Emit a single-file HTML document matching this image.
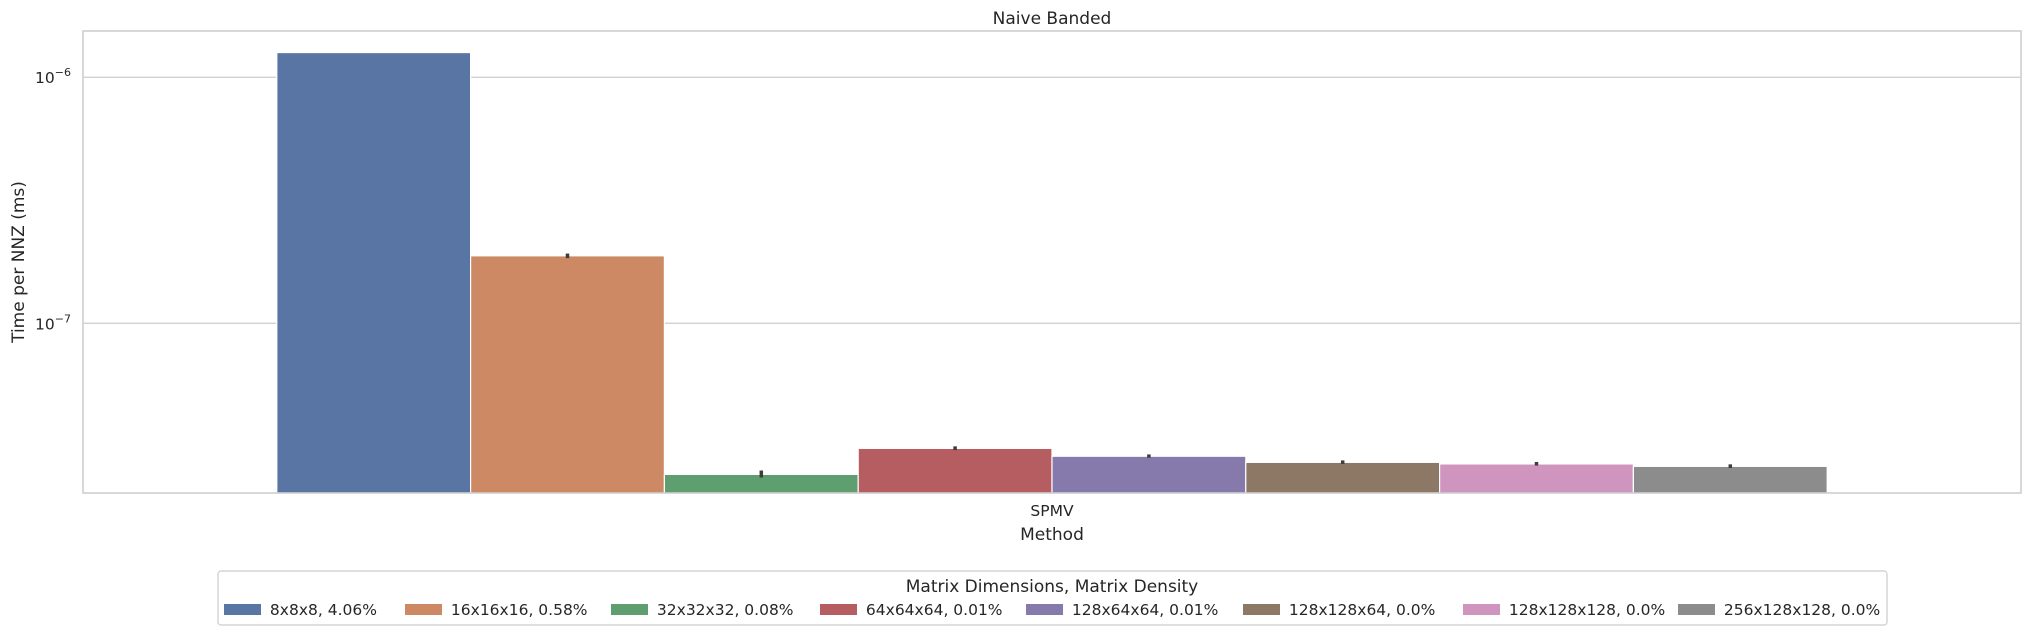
<!DOCTYPE html>
<html><head><meta charset="utf-8"><style>
body{margin:0;background:#fff;}
svg{display:block;font-family:"DejaVu Sans","Liberation Sans",sans-serif;}
</style></head><body>
<svg id="chart" width="2030" height="635" viewBox="0 0 2030 635" xmlns="http://www.w3.org/2000/svg"></svg>
<script>
const categories = ["8x8x8, 4.06%","16x16x16, 0.58%","32x32x32, 0.08%","64x64x64, 0.01%","128x64x64, 0.01%","128x128x64, 0.0%","128x128x128, 0.0%","256x128x128, 0.0%"];
const values = [1.26e-6, 1.88e-7, 2.43e-8, 3.1e-8, 2.88e-8, 2.72e-8, 2.68e-8, 2.62e-8];
const errLow = [1.26e-6, 1.84e-7, 2.36e-8, 3.05e-8, 2.84e-8, 2.68e-8, 2.64e-8, 2.58e-8];
const errHigh = [1.26e-6, 1.92e-7, 2.52e-8, 3.16e-8, 2.93e-8, 2.77e-8, 2.73e-8, 2.67e-8];
const colors = ["#5975a4","#cc8963","#5f9e6e","#b55d60","#857aab","#8d7866","#d095bf","#8c8c8c"];
const yTicks = [-7, -6];
const NS = "http://www.w3.org/2000/svg";
const svg = document.getElementById("chart");
const L=83, R=2021, T=31, B=493;
const logMin=-7.69, logMax=-5.812;
function y(v){return B - (Math.log10(v)-logMin)/(logMax-logMin)*(B-T);}
const barW=193.8, groupLeft=(L+R)/2 - barW*categories.length/2;
function x(i){return groupLeft + i*barW;}
function el(tag, attrs, text){const e=document.createElementNS(NS,tag);for(const k in attrs)e.setAttribute(k,attrs[k]);if(text!==undefined)e.textContent=text;svg.appendChild(e);return e;}
// grid + ticks
yTicks.forEach(t=>{
  const yy=y(Math.pow(10,t));
  const g=el("line",{x1:L,x2:R,y1:yy,y2:yy,stroke:"#cccccc","stroke-width":1.2});
  
  
  const tx=el("text",{x:L-12,y:yy+6,"text-anchor":"end","font-size":15.5,fill:"#262626"});
  
  
  const a=document.createElementNS(NS,"tspan");a.textContent="10";tx.appendChild(a);
  const b=document.createElementNS(NS,"tspan");b.setAttribute("dy","-7");b.setAttribute("font-size","11");b.textContent="\u2212"+Math.abs(t);tx.appendChild(b);
});
// bars
values.forEach((v,i)=>{
  const r=el("rect",{x:x(i),y:y(v),width:barW,height:B-y(v),fill:colors[i],stroke:"#fff","stroke-width":1.2});
  
  
  const e=el("line",{x1:x(i)+barW/2,x2:x(i)+barW/2,y1:y(errHigh[i]),y2:y(errLow[i]),stroke:"#3d3d3d","stroke-width":3.5});
  
  
});
// frame
const fr=el("rect",{x:L,y:T,width:R-L,height:B-T,fill:"none",stroke:"#cccccc","stroke-width":1.5});


let t1=el("text",{x:(L+R)/2,y:24,"text-anchor":"middle","font-size":17,fill:"#262626"},"Naive Banded");


let t2=el("text",{x:(L+R)/2,y:516,"text-anchor":"middle","font-size":15.5,fill:"#262626"},"SPMV");


let t3=el("text",{x:(L+R)/2,y:540,"text-anchor":"middle","font-size":17,fill:"#262626"},"Method");


let t4=el("text",{x:24,y:(T+B)/2,"text-anchor":"middle","font-size":17,fill:"#262626",transform:"rotate(-90 24 "+((T+B)/2)+")"},"Time per NNZ (ms)");


// legend
const lg=el("rect",{x:218,y:571,width:1669,height:54,fill:"#fff",stroke:"#cccccc","stroke-width":1.2,rx:3});


let lt=el("text",{x:1052,y:592,"text-anchor":"middle","font-size":17,fill:"#262626"},"Matrix Dimensions, Matrix Density");


const patchX=[224,405,611,820,1026,1243,1463,1678];
categories.forEach((c,i)=>{
  const p=el("rect",{x:patchX[i],y:604,width:37,height:11,fill:colors[i]});
  
  
  const t=el("text",{x:patchX[i]+41+ (i==0?0:0),y:615,"font-size":15.5,fill:"#262626"},"\u00a0"+c);
  
  
});
</script>
</body></html>
